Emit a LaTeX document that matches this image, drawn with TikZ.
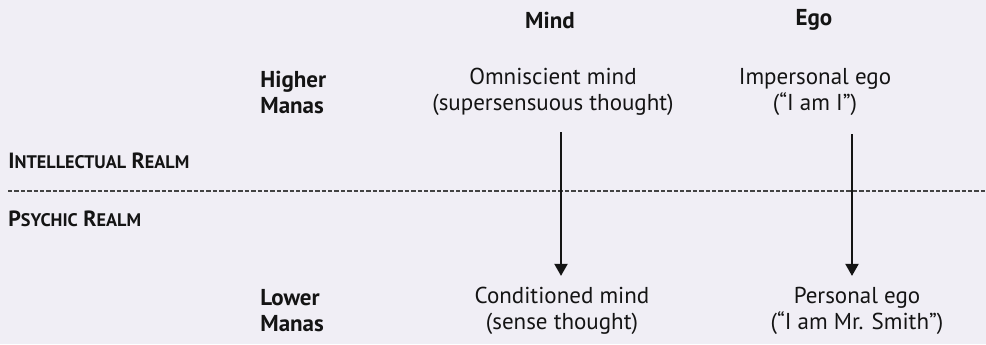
\documentclass[tikz,border=0pt]{standalone}
\usepackage{fontspec}
\setmainfont{PT Sans}
\usetikzlibrary{positioning,arrows.meta}
\definecolor{paper}{RGB}{240,238,245}
\definecolor{ink}{RGB}{20,20,20}
\newcommand{\smallcap}[1]{{\fontsize{9.1}{10}\selectfont #1}}

\begin{document}
\begin{tikzpicture}[%
		x=0.5pt,
		y=-0.5pt,
		>={Triangle[length=6pt,width=6.5pt]},
		every node/.style={text=ink},
		entry/.style={%
			font=\fontsize{11.5}{13}\selectfont,
			align=center,
			inner sep=1pt
		},
		level/.style={%
			font=\fontsize{11.5}{13}\selectfont\bfseries,
			align=left,
			anchor=west,
			inner sep=0pt
		},
		head/.style={%
			font=\fontsize{11.5}{13}\selectfont\bfseries,
			inner sep=0pt
		},
		realm/.style={%
			font=\fontsize{11}{12}\selectfont\bfseries,
			anchor=west,
			inner sep=0pt
		},
		down/.style={%
			->,
			line width=1pt,
			draw=ink,
			shorten >=4.5pt
		},
		divider/.style={%
			draw=ink!80,
			line width=0.6pt,
			dash pattern=on 2.2pt off 1pt
		}
		]
		\fill[paper] (0,0) rectangle (986,344);
		\useasboundingbox (0,0) rectangle (986,344);

		% column heads
		\node[head] (mind) at (550,20)                      {Mind};
		\node[head] (ego)  at (814,20)                      {Ego};

		% higher manas
		\node[level] (hm) at (260,92)                       {Higher\\Manas};
		\node[entry] (1)  at (553,92)                       {Omniscient mind\\(supersensuous thought)};
		\node[entry] (2)  at (815,92)                       {Impersonal ego\\(“I am I”)};

		% lower manas
		\node[level] (lm) at (260,311)                      {Lower\\Manas};
		\node[entry] (3)  at (562,311)                      {Conditioned mind\\(sense thought)};
		\node[entry] (4)  at (857,311)                      {Personal ego\\(“I am Mr. Smith”)};

		% realms
		\node[realm] (ir) at (8,161)                        {I\smallcap{NTELLECTUAL} R\smallcap{EALM}};
		\node[realm] (pr) at (8,219)                        {P\smallcap{SYCHIC} R\smallcap{EALM}};
		\coordinate (dl) at (8,191);
		\coordinate (dr) at (986,191);
		\draw[divider] (dl) -- (dr);

		% arrows
		\coordinate (a1) at (561,132);
		\coordinate (a2) at (852,134);
		\draw[down] (a1) -- (a1 |- 3.north);
		\draw[down] (a2) -- (a2 |- 4.north);
		\end{tikzpicture}
\end{document}
